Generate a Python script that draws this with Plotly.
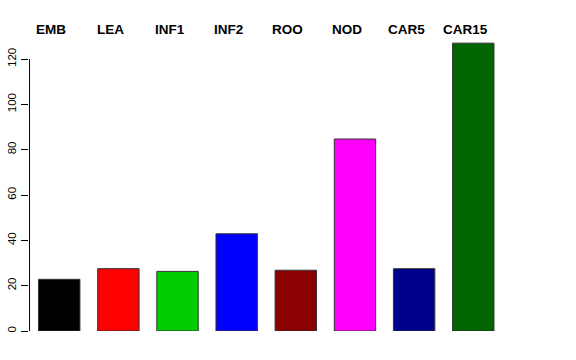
import plotly.graph_objects as go

categories = ["EMB", "LEA", "INF1", "INF2", "ROO", "NOD", "CAR5", "CAR15"]
values = [22.8, 27.5, 26.3, 42.9, 26.8, 84.7, 27.5, 127.0]
colors = ["#000000", "#FF0000", "#00CD00", "#0000FF", "#8B0000", "#FF00FF", "#00008B", "#006400"]
y_ticks = [0, 20, 40, 60, 80, 100, 120]

fig = go.Figure()
fig.add_trace(go.Bar(
    x=categories, y=values,
    marker=dict(color=colors, line=dict(color="#333333", width=1)),
    showlegend=False,
))

for c in categories:
    fig.add_annotation(
        x=c, y=1, xref="x", yref="paper",
        text="<b>%s</b>" % c, showarrow=False,
        xanchor="center", yanchor="middle",
        xshift=-8, yshift=10.5,
        font=dict(family="Liberation Sans", size=13.5, color="black"),
    )

# y axis line spanning the tick range only (R style)
fig.add_shape(type="line", xref="paper", yref="y",
              x0=0.001, x1=0.001, y0=y_ticks[0], y1=y_ticks[-1],
              line=dict(color="black", width=1))

fig.update_layout(
    width=576, height=360,
    margin=dict(l=29, r=13.5, t=40, b=29, autoexpand=False),
    paper_bgcolor="white", plot_bgcolor="white",
    bargap=0.3,
    font=dict(family="Liberation Sans", size=12, color="black"),
    xaxis=dict(range=[-0.511, 8.5], showticklabels=False, showgrid=False,
               zeroline=False, showline=False, ticks=""),
    yaxis=dict(range=[0, 128.4], tickvals=y_ticks, ticks="outside", ticklen=7,
               tickcolor="black", tickangle=-90, showgrid=False, zeroline=False,
               showline=False, tickfont=dict(size=11.5, family="Liberation Sans")),
)

fig.write_html("out.html",
               config={"displayModeBar": False},
               post_script="document.body.style.margin='0';document.body.style.overflow='hidden';")
